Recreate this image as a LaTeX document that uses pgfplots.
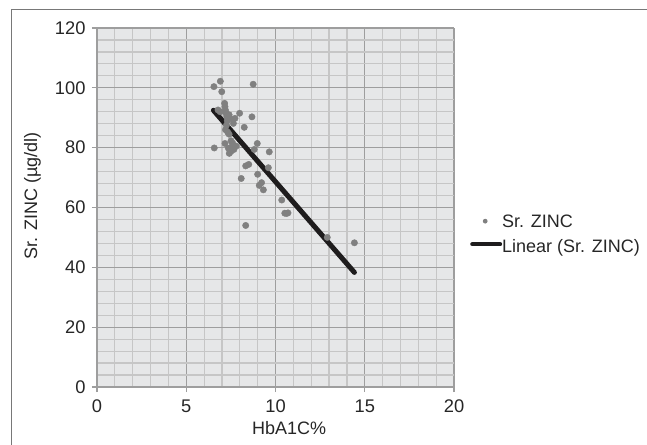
\documentclass[border=0pt]{standalone}
\usepackage{pgfplots}
\pgfplotsset{compat=1.18}
\usepackage{fontspec}
\setmainfont{Liberation Sans}
\definecolor{bg}{RGB}{230,231,232}
\definecolor{majg}{RGB}{158,158,158}
\definecolor{ming}{RGB}{198,198,198}
\definecolor{pts}{RGB}{128,128,128}
\definecolor{trend}{RGB}{30,28,29}
\definecolor{frame}{RGB}{120,120,120}
\begin{document}
\begin{tikzpicture}[x=1pt,y=1pt]
\useasboundingbox (0,0) rectangle (647,444);
\draw[frame, line width=1pt] (11,-20) rectangle (700,434);
\begin{axis}[
  at={(97pt,57pt)}, anchor=south west,
  scale only axis, width=357pt, height=359pt,
  xmin=0, xmax=20, ymin=0, ymax=120,
  xtick={0,5,...,20}, ytick={0,20,...,120},
  minor xtick={0,1,...,20}, minor ytick={0,4,...,120},
  grid=both,
  major grid style={majg, line width=1.2pt},
  minor grid style={ming, line width=1.2pt},
  axis background/.style={fill=bg},
  axis lines*=left,
  axis line style={majg, line width=1.2pt},
  tick align=outside,
  major tick length=5pt, minor tick length=0pt,
  tick style={majg, line width=1.2pt},
  /pgf/number format/assume math mode=true,
  ticklabel style={font=\fontsize{18.3}{21}\selectfont, text=black!85},
  xticklabel style={yshift=-4pt},
  yticklabel style={xshift=-3pt},
  xlabel={HbA1C\%},
  ylabel={Sr. ZINC (µg/dl)},
  label style={font=\fontsize{18}{21}\selectfont, text=black!85},
  xlabel style={at={(axis description cs:0.538,-0.131)}, anchor=base},
  ylabel style={at={(axis description cs:-0.168,0.532)}, anchor=base},
  legend style={at={(axis description cs:1.0448,0.4848)}, anchor=north west,
    draw=none, fill=none, inner sep=0pt, column sep=0pt, row sep=6pt,
    font=\fontsize{18}{21}\selectfont, text=black!85,
    nodes={inner sep=0pt, text height=13pt, text depth=4pt}},
  legend cell align=left,
  clip=false,
]
\addplot[only marks, mark=*, mark size=3.2pt, mark options={fill=pts, draw=pts},
  legend image code/.code={\path[draw=none,fill=none] (0pt,-2pt) rectangle (32pt,10pt); \fill[pts, draw=none] (15pt,2pt) circle (2.4pt);}]
  table {
x y
6.55 100.4
6.91 102.2
6.99 98.7
8.75 101.2
6.57 79.9
6.78 92.6
6.90 92.0
7.15 94.8
7.17 93.7
7.20 92.5
7.22 91.5
7.27 90.3
7.30 89.0
7.45 89.8
7.40 91.0
7.73 89.8
7.99 91.5
7.64 88.1
8.68 90.3
8.25 86.8
7.25 87.5
7.20 86.0
7.32 85.2
7.40 84.5
7.17 81.4
7.51 82.3
7.60 81.5
7.36 79.8
7.55 80.3
7.67 79.4
7.41 78.1
7.50 78.7
7.80 80.5
8.98 81.4
8.81 79.4
9.65 78.6
8.33 73.9
8.50 74.4
9.60 73.3
8.08 69.7
9.00 71.1
9.22 68.3
9.09 67.4
9.32 65.9
10.35 62.5
10.52 58.1
10.70 58.2
10.62 58.0
8.33 54.0
12.90 50.0
14.42 48.2
};
\addlegendentry{Sr. ZINC}
\addplot[trend, line width=5pt, line cap=round,
  legend image code/.code={\path[draw=none,fill=none] (0pt,-2pt) rectangle (32pt,10pt); \draw[trend, line width=4.5pt, line cap=round] (2.25pt,3.5pt) -- (29.75pt,3.5pt);}]
  table {
x y
6.52 92.5
14.42 38.3
};
\addlegendentry{Linear (Sr. ZINC)}
\end{axis}
\end{tikzpicture}
\end{document}
